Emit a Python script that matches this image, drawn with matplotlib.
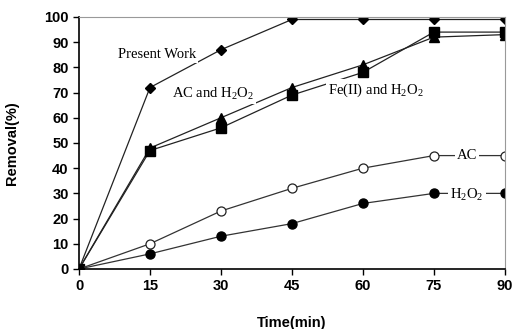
import matplotlib
matplotlib.use("Agg")
import matplotlib.pyplot as plt

time = [0, 15, 30, 45, 60, 75, 90]
present_work = [0, 72, 87, 99, 99, 99, 99]
ac_h2o2 = [0, 48, 60, 72, 81, 92, 93]
fe_h2o2 = [0, 47, 56, 69, 78, 94, 94]
ac = [0, 10, 23, 32, 40, 45, 45]
h2o2 = [0, 6, 13, 18, 26, 30, 30]

plt.rcParams['mathtext.fontset'] = 'custom'
plt.rcParams['mathtext.rm'] = 'Liberation Serif'
plt.rcParams['mathtext.it'] = 'Liberation Serif:italic'

fig = plt.figure(figsize=(5.13, 3.29), dpi=100)
ax = fig.add_axes([0.154, 0.1824, 0.830, 0.766])

lc = '#222222'
ax.plot(time, present_work, color=lc, lw=0.9, marker='D', ms=5, mfc='black', mec='black')
ax.plot(time, ac_h2o2, color=lc, lw=0.9, marker='^', ms=7.5, mfc='black', mec='black')
ax.plot(time, fe_h2o2, color=lc, lw=0.9, marker='s', ms=7, mfc='black', mec='black')
ax.plot(time, ac, color='#333333', lw=0.9, marker='o', ms=6.5, mfc='white', mec='#222222', mew=0.9)
ax.plot(time, h2o2, color='#333333', lw=0.9, marker='o', ms=6.5, mfc='black', mec='black')

serif = ['Liberation Serif', 'DejaVu Serif']
bb = dict(facecolor='white', edgecolor='none', pad=1.5)
fs = 10.5
ax.text(16.5, 85, 'Present Work', family=serif, fontsize=fs, ha='center', va='center', bbox=bb, zorder=5)
ax.text(28.3, 69.5, 'AC and H$_2$O$_2$', family=serif, fontsize=fs, ha='center', va='center', bbox=bb, zorder=5)
ax.text(62.8, 71, 'Fe(II) and H$_2$O$_2$', family=serif, fontsize=fs, ha='center', va='center', bbox=bb, zorder=5)
ax.text(82, 45, 'AC', family=serif, fontsize=fs, ha='center', va='center', bbox=bb, zorder=5)
ax.text(82, 29.5, 'H$_2$O$_2$', family=serif, fontsize=fs, ha='center', va='center', bbox=bb, zorder=5)

ax.set_xlim(0, 90)
ax.set_ylim(0, 100)
ax.set_xticks(time)
ax.set_yticks(range(0, 101, 10))
sans = 'Liberation Sans'
for lab in ax.get_xticklabels() + ax.get_yticklabels():
    lab.set_family(sans)
    lab.set_fontweight('bold')
    lab.set_fontsize(10.5)
ax.tick_params(direction='out', length=4, width=1, colors='black')
ax.spines['top'].set_color('#999999')
ax.spines['right'].set_color('#999999')
ax.spines['left'].set_linewidth(1.2)
ax.spines['bottom'].set_linewidth(1.2)
ax.set_xlabel('Time(min)', family=sans, fontweight='bold', fontsize=10.5, labelpad=16)
ax.set_ylabel('Removal(%)', family=sans, fontweight='bold', fontsize=10.5, labelpad=18)

fig.savefig('out.png', dpi=100)
